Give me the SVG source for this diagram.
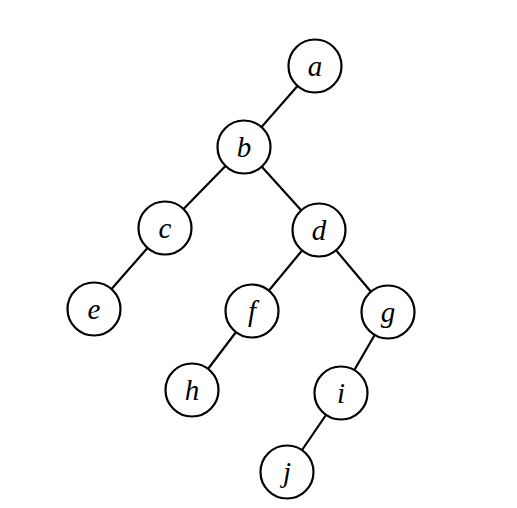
<svg xmlns="http://www.w3.org/2000/svg" width="517" height="508" viewBox="0 0 517 508">
<style>
.n circle{fill:#fff;stroke:#000;stroke-width:2.2}
.n text{font-family:"Liberation Serif",serif;font-style:italic;font-size:29px;text-anchor:middle;dominant-baseline:central;fill:#000}
#edges line{stroke:#000;stroke-width:2.2}
</style>
<rect width="517" height="508" fill="#fff"/>
<g id="edges">
<line x1="315" y1="66" x2="244" y2="147"/>
<line x1="244" y1="147" x2="165" y2="228"/>
<line x1="244" y1="147" x2="319" y2="230"/>
<line x1="165" y1="228" x2="94" y2="309"/>
<line x1="319" y1="230" x2="252" y2="311"/>
<line x1="319" y1="230" x2="388" y2="312"/>
<line x1="252" y1="311" x2="192" y2="390"/>
<line x1="388" y1="312" x2="341" y2="393"/>
<line x1="341" y1="393" x2="287" y2="472"/>
</g>
<g id="a" class="n"><circle cx="315" cy="66" r="26.5"/><text x="315" y="66">a</text></g>
<g id="b" class="n"><circle cx="244" cy="147" r="26.5"/><text x="244" y="147">b</text></g>
<g id="c" class="n"><circle cx="165" cy="228" r="26.5"/><text x="165" y="228">c</text></g>
<g id="d" class="n"><circle cx="319" cy="230" r="26.5"/><text x="319" y="230">d</text></g>
<g id="e" class="n"><circle cx="94" cy="309" r="26.5"/><text x="94" y="309">e</text></g>
<g id="f" class="n"><circle cx="252" cy="311" r="26.5"/><text x="252" y="311">f</text></g>
<g id="g" class="n"><circle cx="388" cy="312" r="26.5"/><text x="388" y="312">g</text></g>
<g id="h" class="n"><circle cx="192" cy="390" r="26.5"/><text x="192" y="390">h</text></g>
<g id="i" class="n"><circle cx="341" cy="393" r="26.5"/><text x="341" y="393">i</text></g>
<g id="j" class="n"><circle cx="287" cy="472" r="26.5"/><text x="287" y="472">j</text></g>
</svg>
